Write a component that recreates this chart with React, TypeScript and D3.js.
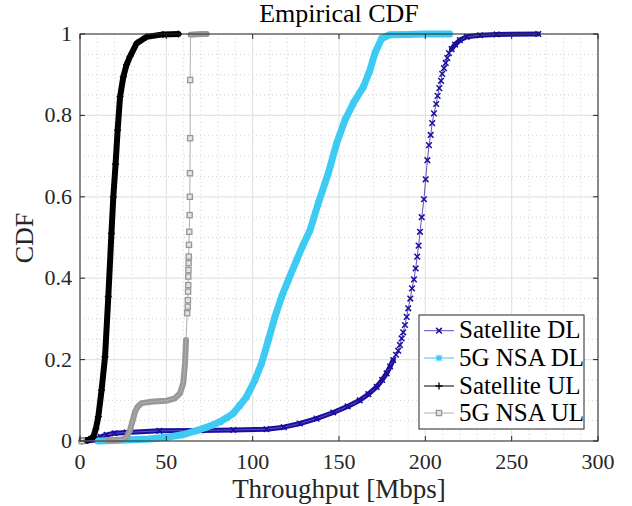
import React from 'react';
import * as d3 from 'd3';

// [throughput Mbps, cdf]
const satDL: [number, number][] = [
  [3, 0], [7.7, 0.002], [12, 0.01], [15.4, 0.015], [20, 0.019], [27, 0.021], [46, 0.025],
  [70, 0.026], [88.8, 0.027], [108, 0.029], [118, 0.034], [127.4, 0.043], [137, 0.055],
  [146.7, 0.07], [155, 0.085], [162, 0.1], [167, 0.115], [171.8, 0.133], [175, 0.15],
  [177.6, 0.166], [179.6, 0.183], [181.4, 0.199], [183, 0.212], [184.3, 0.222],
  [185.3, 0.236], [186.3, 0.252], [187.2, 0.267], [188.2, 0.285], [189.2, 0.305],
  [190.1, 0.326], [191.3, 0.35], [192.3, 0.375], [193.4, 0.397], [194.4, 0.424],
  [195.3, 0.453], [196.1, 0.48], [196.9, 0.514], [197.9, 0.55], [199.2, 0.594],
  [200.2, 0.643], [201.2, 0.69], [202.1, 0.727], [203.1, 0.752], [204, 0.781],
  [205, 0.805], [206.3, 0.828], [207.1, 0.848], [208.1, 0.867], [209.1, 0.885],
  [209.8, 0.902], [210.8, 0.916], [211.8, 0.929], [212.7, 0.941], [213.7, 0.953],
  [215.2, 0.963], [217.2, 0.974], [220, 0.985], [224, 0.993], [231.7, 0.997],
  [241.3, 0.999], [265.4, 1],
];
const nsaDL: [number, number][] = [
  [10.6, 0], [20, 0.001], [30, 0.003], [40, 0.005], [50, 0.009], [60, 0.016], [67, 0.025],
  [72, 0.032], [76, 0.038], [81, 0.047], [85, 0.057], [88.8, 0.068], [92.5, 0.087],
  [96.5, 0.109], [101.3, 0.15], [105.2, 0.191], [109.1, 0.248], [112.9, 0.305],
  [116.8, 0.355], [120.7, 0.396], [125.5, 0.445], [129, 0.48], [133.2, 0.518],
  [138, 0.584], [143.8, 0.658], [148.6, 0.731], [153.5, 0.789], [158.3, 0.83],
  [164.1, 0.87], [168, 0.912], [170.8, 0.953], [174.7, 0.989], [179.5, 0.998],
  [190, 0.999], [200, 1], [214, 1],
];
const satUL: [number, number][] = [
  [1, 0], [5, 0.003], [7.7, 0.01], [9.2, 0.03], [10.6, 0.06], [12.5, 0.125], [14.5, 0.207],
  [16.4, 0.355], [18.2, 0.51], [19.3, 0.6], [20.6, 0.68], [21.8, 0.764], [23.2, 0.846],
  [25.1, 0.895], [27, 0.925], [29, 0.945], [32.8, 0.977], [38.6, 0.993], [48, 0.999],
  [57, 1],
];
const nsaUL: [number, number][] = [
  [1, 0], [16, 0.001], [20, 0.002], [25, 0.004], [27, 0.01], [29, 0.027], [30.5, 0.05],
  [31.9, 0.072], [33.5, 0.085], [35.7, 0.093], [42.5, 0.097], [50.2, 0.099], [55, 0.105],
  [57.9, 0.117], [59.8, 0.142], [60.8, 0.19], [61.4, 0.248], [62.1, 0.314], [62.4, 0.33],
  [62.5, 0.346], [62.6, 0.367], [62.7, 0.383], [62.7, 0.404], [62.8, 0.42], [62.9, 0.437],
  [63, 0.453], [63.1, 0.482], [63.3, 0.514], [63.5, 0.555], [63.6, 0.6], [63.7, 0.658],
  [63.8, 0.744], [63.8, 0.887], [64, 0.998], [66, 0.999], [70, 1], [73.4, 1],
];

const xTicks = [0, 50, 100, 150, 200, 250, 300];
const yTicks = [0, 0.2, 0.4, 0.6, 0.8, 1];
const yTickLabels = ['0', '0.2', '0.4', '0.6', '0.8', '1'];

type Series = {
  name: string;
  data: [number, number][];
  color: string;
  lineColor: string;
  marker: 'x' | 'star' | 'plus' | 'square';
  dense: (c: number) => boolean;
  band: number;
  markDense: boolean;
};

const series: Series[] = [
  { name: 'Satellite DL', data: satDL, color: '#1b0e9e', lineColor: '#5a4fc4', marker: 'x', dense: c => c < 0.2 || c > 0.955, band: 5, markDense: true },
  { name: '5G NSA DL', data: nsaDL, color: '#3ecbf3', lineColor: '#3ecbf3', marker: 'star', dense: () => true, band: 7, markDense: true },
  { name: 'Satellite UL', data: satUL, color: '#000000', lineColor: '#000000', marker: 'plus', dense: () => true, band: 6, markDense: true },
  { name: '5G NSA UL', data: nsaUL, color: '#9b9797', lineColor: '#b0b0b0', marker: 'square', dense: c => (c > 0.0005 && c < 0.31) || c > 0.99, band: 6, markDense: false },
];

const W = 632, H = 506;
const L = 80, R = 598, T = 34, B = 441;
const FONT = '"Liberation Serif", "Times New Roman", serif';

function Marker({ kind, x, y, color }: { kind: Series['marker']; x: number; y: number; color: string }) {
  const s = 2.8;
  if (kind === 'x') {
    return <path d={`M${x - s},${y - s}L${x + s},${y + s}M${x - s},${y + s}L${x + s},${y - s}`} stroke={color} strokeWidth={1.5} fill="none" />;
  }
  if (kind === 'star') {
    return <path d={`M${x - s},${y - s}L${x + s},${y + s}M${x - s},${y + s}L${x + s},${y - s}M${x - s - 0.5},${y}L${x + s + 0.5},${y}M${x},${y - s - 0.5}L${x},${y + s + 0.5}`} stroke={color} strokeWidth={1.3} fill="none" />;
  }
  if (kind === 'plus') {
    return <path d={`M${x - 3.5},${y}L${x + 3.5},${y}M${x},${y - 3.5}L${x},${y + 3.5}`} stroke={color} strokeWidth={1.3} fill="none" />;
  }
  return <rect x={x - 2.6} y={y - 2.6} width={5.2} height={5.2} stroke={color} strokeWidth={1.3} fill="#e4e2e2" />;
}

export default function App() {
  const x = d3.scaleLinear().domain([0, 300]).range([L, R]);
  const y = d3.scaleLinear().domain([0, 1]).range([B, T]);
  const line = d3.line<[number, number]>().x(d => x(d[0])).y(d => y(d[1]));

  const minorX = d3.range(0, 301, 10).filter(v => v % 50 !== 0);
  const minorY = d3.range(0, 1.0001, 0.05).filter(v => Math.abs(v * 5 - Math.round(v * 5)) > 1e-6);

  // split a series into runs of consecutive dense points
  const denseRuns = (s: Series) => {
    const runs: [number, number][][] = [];
    let cur: [number, number][] = [];
    s.data.forEach(p => {
      if (s.dense(p[1])) cur.push(p);
      else { if (cur.length) runs.push(cur); cur = []; }
    });
    if (cur.length) runs.push(cur);
    return runs;
  };

  const legX = 419, legY = 315, legW = 165, legH = 114;
  const rowY = [330.7, 358, 386, 413];

  return (
    <svg width={W} height={H} style={{ position: 'absolute', left: 0, top: 0, background: '#fff' }}>
      <rect x={0} y={0} width={W} height={H} fill="#fff" />
      {/* minor grid */}
      <g stroke="#c8c8c8" strokeWidth={0.8} strokeDasharray="1,3">
        {minorX.map(v => <line key={'mx' + v} x1={x(v)} x2={x(v)} y1={T} y2={B} />)}
        {minorY.map(v => <line key={'my' + v} x1={L} x2={R} y1={y(v)} y2={y(v)} />)}
      </g>
      {/* major grid */}
      <g stroke="#e3e3e3" strokeWidth={1.2}>
        {xTicks.map(v => <line key={'gx' + v} x1={x(v)} x2={x(v)} y1={T} y2={B} />)}
        {yTicks.map(v => <line key={'gy' + v} x1={L} x2={R} y1={y(v)} y2={y(v)} />)}
      </g>

      {/* series */}
      {series.map(s => (
        <g key={s.name}>
          {denseRuns(s).map((run, i) => (
            <path key={i} d={line(run) || ''} stroke={s.color} strokeWidth={s.band} fill="none" strokeLinejoin="round" strokeLinecap="round" />
          ))}
          <path d={line(s.data) || ''} stroke={s.lineColor} strokeWidth={1} fill="none" />
          {s.data
            .filter(p => s.markDense || !s.dense(p[1]))
            .map((p, i) => <Marker key={i} kind={s.marker} x={x(p[0])} y={y(p[1])} color={s.color} />)}
        </g>
      ))}

      {/* axes box and ticks */}
      <rect x={L} y={T} width={R - L} height={B - T} fill="none" stroke="#262626" strokeWidth={1} />
      <g stroke="#262626" strokeWidth={1}>
        {xTicks.map(v => (
          <g key={'tx' + v}>
            <line x1={x(v)} x2={x(v)} y1={B} y2={B - 5} />
            <line x1={x(v)} x2={x(v)} y1={T} y2={T + 5} />
          </g>
        ))}
        {yTicks.map(v => (
          <g key={'ty' + v}>
            <line x1={L} x2={L + 5} y1={y(v)} y2={y(v)} />
            <line x1={R} x2={R - 5} y1={y(v)} y2={y(v)} />
          </g>
        ))}
      </g>
      <g fontFamily={FONT} fontSize={22} fill="#262626">
        {xTicks.map(v => (
          <text key={'lx' + v} x={x(v)} y={469} textAnchor="middle">{v}</text>
        ))}
        {yTicks.map((v, i) => (
          <text key={'ly' + v} x={72} y={y(v) + 7} textAnchor="end">{yTickLabels[i]}</text>
        ))}
      </g>

      <text x={339} y={22} textAnchor="middle" fontFamily={FONT} fontSize={26} fill="#000">Empirical CDF</text>
      <text x={339} y={498} textAnchor="middle" fontFamily={FONT} fontSize={27} fill="#262626">Throughput [Mbps]</text>
      <text transform="translate(33,238) rotate(-90)" textAnchor="middle" fontFamily={FONT} fontSize={26} fill="#262626">CDF</text>

      {/* legend */}
      <rect x={legX} y={legY} width={legW} height={legH} fill="#fff" stroke="#262626" strokeWidth={1} />
      {series.map((s, i) => (
        <g key={'lg' + s.name}>
          <line x1={legX + 5} x2={legX + 35} y1={rowY[i]} y2={rowY[i]} stroke={s.lineColor} strokeWidth={1} />
          <Marker kind={s.marker} x={legX + 20} y={rowY[i]} color={s.color} />
          <text x={legX + 40} y={rowY[i] + 7.5} fontFamily={FONT} fontSize={25} fill="#000">{s.name}</text>
        </g>
      ))}
    </svg>
  );
}
